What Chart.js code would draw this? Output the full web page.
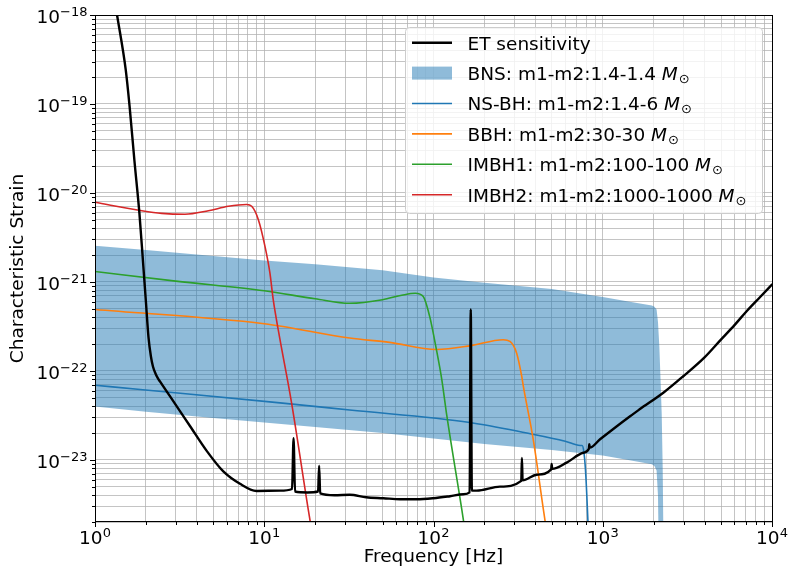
<!DOCTYPE html>
<html>
<head>
<meta charset="utf-8">
<script src="https://cdn.jsdelivr.net/npm/chart.js@4.4.0/dist/chart.umd.min.js"></script>
<style>
  html, body { margin: 0; padding: 0; background: #fff; }
  #wrap { width: 790px; height: 572px; }
</style>
</head>
<body>
<div id="wrap"><canvas id="chart" width="790" height="572"></canvas></div>
<script>
// ── data (frequency in Hz, characteristic strain) ──
var etFreq = [1.30, 1.35, 1.52, 1.60, 1.71, 1.83, 1.93, 2.00, 2.07, 2.14, 2.20, 2.28, 2.35, 2.42, 2.90, 3.64, 4.57,
  5.73, 7.19, 9.0, 12.4, 14.6, 14.9, 15.2, 18.0, 20.8, 21.1, 21.4, 26, 32, 40, 50.6, 63.4, 79.6, 99.8, 125, 150,
  163.5, 166, 168.5, 180, 247, 330, 333, 336, 407, 496, 499, 502, 612, 767, 828, 833, 838, 964, 1450, 1660, 2300,
  2990, 3980, 4930, 6040, 7080, 8510, 10000];
var etStrain = [1.55e-18, 1.0e-18, 2.4e-19, 9.5e-20, 2.3e-20, 5.9e-21, 1.5e-21, 5.9e-22, 2.4e-22, 1.45e-22, 1.12e-22,
  9.3e-23, 8.3e-23, 7.6e-23, 4.57e-23, 2.4e-23, 1.26e-23,
  7.4e-24, 5.37e-24, 4.47e-24, 4.5e-24, 4.7e-24, 1.75e-23, 4.4e-24, 4.3e-24, 4.4e-24, 8.6e-24, 4.2e-24, 4.0e-24,
  4.05e-24, 3.8e-24, 3.7e-24, 3.6e-24, 3.6e-24, 3.7e-24, 3.9e-24, 4.1e-24,
  4.3e-24, 4.9e-22, 4.5e-24, 4.5e-24, 5.0e-24, 5.8e-24, 1.05e-23, 5.9e-24, 6.8e-24, 7.8e-24, 9.0e-24, 7.9e-24,
  9.3e-24, 1.2e-23, 1.33e-23, 1.5e-23, 1.37e-23, 1.7e-23, 3.09e-23, 3.72e-23, 5.75e-23,
  8.7e-23, 1.41e-22, 2.19e-22, 3.31e-22, 4.68e-22, 6.76e-22, 9.33e-22];

var bnsFreq = [1, 2, 5, 10, 20, 50, 100, 200, 500, 1000, 1500, 1950, 2020, 2080, 2120, 2160, 2200, 2230, 2260, 2300];
var bnsUpper = [2.54e-21, 2.29e-21, 1.95e-21, 1.74e-21, 1.58e-21, 1.35e-21, 1.12e-21, 9.77e-22, 8.32e-22, 6.76e-22,
  5.89e-22, 5.43e-22, 5.25e-22, 4.9e-22, 3.55e-22, 1.86e-22, 7.08e-23, 3.31e-23, 8.32e-24, 3.2e-25];
var bnsLower = [3.98e-23, 3.47e-23, 2.95e-23, 2.63e-23, 2.34e-23, 2.0e-23, 1.74e-23, 1.51e-23, 1.29e-23, 1.12e-23,
  9.77e-24, 8.91e-24, 8.51e-24, 7.59e-24, 3.98e-24, 3.2e-25, 1e-25, 1e-25, 1e-25, 1e-25];

var nsbhFreq = [1, 1.85, 12.4, 32, 164, 356, 600, 735, 755, 772, 790, 805, 822];
var nsbhStrain = [6.9e-23, 6.17e-23, 4.37e-23, 3.63e-23, 2.63e-23, 2.0e-23, 1.62e-23, 1.45e-23, 1.45e-23, 1.26e-23,
  7.9e-24, 4.0e-24, 1.58e-24];

var bbhFreq = [1, 10, 32, 55, 104, 164, 258, 283, 310, 332, 340, 389, 446, 470];
var bbhStrain = [4.9e-22, 3.39e-22, 2.34e-22, 2.09e-22, 1.74e-22, 1.91e-22, 2.24e-22, 2.14e-22, 1.58e-22, 8.71e-23,
  6.6e-23, 1.66e-23, 2.75e-24, 1.41e-24];

var imbh1Freq = [1, 3, 10, 20, 32, 50, 65, 78, 87, 95, 104, 112, 120, 147, 155];
var imbh1Strain = [1.31e-21, 1.02e-21, 7.94e-22, 6.46e-22, 5.75e-22, 6.31e-22, 7.08e-22, 7.46e-22, 6.84e-22, 4.07e-22,
  1.74e-22, 7.94e-23, 3.09e-23, 2.75e-24, 1.41e-24];

var imbh2Freq = [1, 1.89, 2.48, 3.40, 4.68, 6.14, 7.87, 8.43, 9.23, 10.1, 10.8, 11.3, 12.1, 14.5, 18.2, 19.1];
var imbh2Strain = [7.85e-21, 6.31e-21, 5.89e-21, 5.75e-21, 6.31e-21, 7.08e-21, 7.41e-21, 7.08e-21, 5.01e-21, 2.51e-21,
  1.26e-21, 6.31e-22, 2.88e-22, 4.37e-23, 2.75e-24, 1.58e-24];

var legendText = ['ET sensitivity', 'BNS: m1-m2:1.4-1.4', 'NS-BH: m1-m2:1.4-6', 'BBH: m1-m2:30-30',
  'IMBH1: m1-m2:100-100', 'IMBH2: m1-m2:1000-1000'];

// axis ticks
var xDecades = [0, 1, 2, 3, 4];
var yDecades = [-24, -23, -22, -21, -20, -19, -18];
var minorSteps = [1, 2, 3, 4, 5, 6, 7, 8, 9];
var xMin = 1, xMax = 1e4, yMin = 2e-24, yMax = 1e-18;

var colors = {
  et: '#000000', band: 'rgba(31,119,180,0.5)', nsbh: '#1f77b4', bbh: '#ff7f0e',
  imbh1: '#2ca02c', imbh2: '#d62728', grid: 'rgba(176,176,176,0.75)',
};
var FONT = '"DejaVu Sans", sans-serif';

function tickList(decades, lo, hi) {
  var out = [];
  decades.forEach(function (e) {
    minorSteps.forEach(function (m) {
      var v = m * Math.pow(10, e);
      if (v >= lo * 0.999 && v <= hi * 1.001) out.push(v);
    });
  });
  return out;
}
var xTickValues = tickList(xDecades, xMin, xMax);
var yTickValues = tickList(yDecades, yMin, yMax);

function isDecade(v) {
  var l = Math.log10(v);
  return Math.abs(l - Math.round(l)) < 1e-6;
}

function pts(xs, ys) {
  return xs.map(function (x, i) { return { x: x, y: ys[i] }; });
}

function lineSet(label, xs, ys, color, width, order) {
  return {
    label: label, data: pts(xs, ys), borderColor: color, backgroundColor: color,
    borderWidth: width, pointRadius: 0, fill: false, order: order,
    cubicInterpolationMode: 'monotone', borderJoinStyle: 'round', borderCapStyle: 'round',
  };
}

// power-of-ten label with raised exponent
function drawPower(ctx, exp, x, baseY, anchor) {
  var base = '10', sup = (exp < 0 ? '\u2212' : '') + Math.abs(exp);
  ctx.font = '18.5px ' + FONT;
  var wb = ctx.measureText(base).width;
  ctx.font = '13px ' + FONT;
  var ws = ctx.measureText(sup).width;
  var x0 = anchor === 'right' ? x - wb - ws : x - (wb + ws) / 2;
  ctx.textAlign = 'left';
  ctx.textBaseline = 'alphabetic';
  ctx.fillStyle = '#000';
  ctx.font = '18.5px ' + FONT;
  ctx.fillText(base, x0, baseY);
  ctx.font = '13px ' + FONT;
  ctx.fillText(sup, x0 + wb, baseY - 7.2);
}

function roundRect(ctx, x, y, w, h, r) {
  ctx.beginPath();
  ctx.moveTo(x + r, y);
  ctx.arcTo(x + w, y, x + w, y + h, r);
  ctx.arcTo(x + w, y + h, x, y + h, r);
  ctx.arcTo(x, y + h, x, y, r);
  ctx.arcTo(x, y, x + w, y, r);
  ctx.closePath();
}

var decorPlugin = {
  id: 'decor',
  afterDraw: function (chart) {
    var ctx = chart.ctx, a = chart.chartArea;
    var xs = chart.scales.x, ys = chart.scales.y;
    ctx.save();

    // spines
    ctx.strokeStyle = '#000';
    ctx.lineWidth = 1;
    ctx.strokeRect(Math.round(a.left) + 0.5, Math.round(a.top) + 0.5,
      Math.round(a.right - a.left), Math.round(a.bottom - a.top) - 1);

    // tick marks, outward
    ctx.beginPath();
    xTickValues.forEach(function (v) {
      var px = Math.round(xs.getPixelForValue(v)) + 0.5;
      var len = isDecade(v) ? 5 : 3;
      ctx.moveTo(px, a.bottom);
      ctx.lineTo(px, a.bottom + len);
    });
    yTickValues.forEach(function (v) {
      var py = Math.round(ys.getPixelForValue(v)) + 0.5;
      var len = isDecade(v) ? 5 : 3;
      ctx.moveTo(a.left, py);
      ctx.lineTo(a.left - len, py);
    });
    ctx.stroke();

    // tick labels
    xDecades.forEach(function (e) {
      drawPower(ctx, e, xs.getPixelForValue(Math.pow(10, e)), a.bottom + 22, 'center');
    });
    yDecades.forEach(function (e) {
      var v = Math.pow(10, e);
      if (v < yMin * 0.999) return;
      drawPower(ctx, e, a.left - 7.5, ys.getPixelForValue(v) + 8.3, 'right');
    });

    // legend
    var lx = 405.5, ly = 27.5, lw = 357, lh = 186;
    roundRect(ctx, lx, ly, lw, lh, 4);
    ctx.fillStyle = 'rgba(255,255,255,0.8)';
    ctx.fill();
    ctx.strokeStyle = '#cccccc';
    ctx.lineWidth = 1;
    ctx.stroke();

    var handles = [
      { color: colors.et, width: 2.5 }, { patch: colors.band },
      { color: colors.nsbh, width: 1.6 }, { color: colors.bbh, width: 1.6 },
      { color: colors.imbh1, width: 1.6 }, { color: colors.imbh2, width: 1.6 },
    ];
    legendText.forEach(function (txt, i) {
      var cy = 42.7 + 30.4 * i;
      var h = handles[i];
      if (h.patch) {
        ctx.fillStyle = h.patch;
        ctx.fillRect(412, cy - 6.5, 40, 13);
      } else {
        ctx.strokeStyle = h.color;
        ctx.lineWidth = h.width;
        ctx.beginPath();
        ctx.moveTo(412, cy);
        ctx.lineTo(452, cy);
        ctx.stroke();
      }
      ctx.fillStyle = '#000';
      ctx.textAlign = 'left';
      ctx.textBaseline = 'alphabetic';
      ctx.font = '18.5px ' + FONT;
      var base = cy + 6.8;
      ctx.fillText(txt, 467.5, base);
      if (i > 0) {
        var x = 467.5 + ctx.measureText(txt + ' ').width;
        ctx.font = 'italic 18.5px ' + FONT;
        ctx.fillText('M', x, base);
        x += ctx.measureText('M').width + 1;
        ctx.font = '13px ' + FONT;
        ctx.fillText('\u2299', x, base + 3);
      }
    });

    ctx.restore();
  },
};

Chart.defaults.font.family = FONT;
Chart.defaults.color = '#000';

new Chart(document.getElementById('chart'), {
  type: 'line',
  data: {
    datasets: [
      lineSet('ET sensitivity', etFreq, etStrain, colors.et, 2.4, 0),
      {
        label: 'BNS upper', data: pts(bnsFreq, bnsUpper), borderWidth: 0, pointRadius: 0,
        backgroundColor: colors.band, fill: '+1', order: 5, tension: 0,
      },
      {
        label: 'BNS lower', data: pts(bnsFreq, bnsLower), borderWidth: 0, pointRadius: 0,
        fill: false, order: 5, tension: 0,
      },
      lineSet('NS-BH', nsbhFreq, nsbhStrain, colors.nsbh, 1.6, 4),
      lineSet('BBH', bbhFreq, bbhStrain, colors.bbh, 1.6, 3),
      lineSet('IMBH1', imbh1Freq, imbh1Strain, colors.imbh1, 1.6, 2),
      lineSet('IMBH2', imbh2Freq, imbh2Strain, colors.imbh2, 1.6, 1),
    ],
  },
  options: {
    responsive: false, animation: false, devicePixelRatio: 1,
    layout: { padding: { left: 0, right: 18, top: 15, bottom: 0 } },
    plugins: { legend: { display: false }, tooltip: { enabled: false } },
    scales: {
      x: {
        type: 'logarithmic', min: xMin, max: xMax,
        afterBuildTicks: function (sc) { sc.ticks = xTickValues.map(function (v) { return { value: v }; }); },
        afterFit: function (sc) { sc.height = 50; },
        ticks: { display: false },
        grid: { color: colors.grid, lineWidth: 1, drawTicks: false },
        border: { display: false },
        title: {
          display: true, text: 'Frequency [Hz]', color: '#000',
          font: { family: FONT, size: 18.5 }, padding: { top: 0, bottom: 3.5 },
        },
      },
      y: {
        type: 'logarithmic', min: yMin, max: yMax,
        afterBuildTicks: function (sc) { sc.ticks = yTickValues.map(function (v) { return { value: v }; }); },
        afterFit: function (sc) { sc.width = 95; },
        ticks: { display: false },
        grid: { color: colors.grid, lineWidth: 1, drawTicks: false },
        border: { display: false },
        title: {
          display: true, text: 'Characteristic Strain', color: '#000',
          font: { family: FONT, size: 18.5 }, padding: { top: 7.5, bottom: 0 },
        },
      },
    },
  },
  plugins: [decorPlugin],
});
</script>
</body>
</html>
